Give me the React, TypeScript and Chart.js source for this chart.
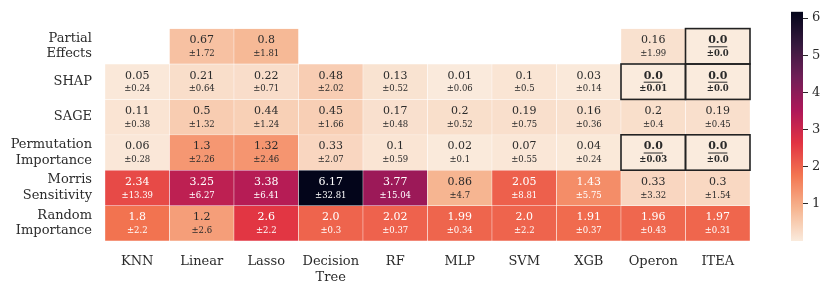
import React, { useEffect, useRef } from 'react';
import { Chart, registerables } from 'chart.js';

Chart.register(...registerables);

// ---------- data ----------
const models = ['KNN', 'Linear', 'Lasso', 'Decision Tree', 'RF', 'MLP', 'SVM', 'XGB', 'Operon', 'ITEA'];
const methods = ['Partial Effects', 'SHAP', 'SAGE', 'Permutation Importance', 'Morris Sensitivity', 'Random Importance'];

const partialEffects = [null, 0.67, 0.8, null, null, null, null, null, 0.16, 0.0];
const partialEffectsStd = [null, 1.72, 1.81, null, null, null, null, null, 1.99, 0.0];
const shap = [0.05, 0.21, 0.22, 0.48, 0.13, 0.01, 0.1, 0.03, 0.0, 0.0];
const shapStd = [0.24, 0.64, 0.71, 2.02, 0.52, 0.06, 0.5, 0.14, 0.01, 0.0];
const sage = [0.11, 0.5, 0.44, 0.45, 0.17, 0.2, 0.19, 0.16, 0.2, 0.19];
const sageStd = [0.38, 1.32, 1.24, 1.66, 0.48, 0.52, 0.75, 0.36, 0.4, 0.45];
const permutation = [0.06, 1.3, 1.32, 0.33, 0.1, 0.02, 0.07, 0.04, 0.0, 0.0];
const permutationStd = [0.28, 2.26, 2.46, 2.07, 0.59, 0.1, 0.55, 0.24, 0.03, 0.0];
const morris = [2.34, 3.25, 3.38, 6.17, 3.77, 0.86, 2.05, 1.43, 0.33, 0.3];
const morrisStd = [13.39, 6.27, 6.41, 32.81, 15.04, 4.7, 8.81, 5.75, 3.32, 1.54];
const randomImp = [1.8, 1.2, 2.6, 2.0, 2.02, 1.99, 2.0, 1.91, 1.96, 1.97];
const randomImpStd = [2.2, 2.6, 2.2, 0.3, 0.37, 0.34, 2.2, 0.37, 0.43, 0.31];

const rowValues = [partialEffects, shap, sage, permutation, morris, randomImp];
const rowStds = [partialEffectsStd, shapStd, sageStd, permutationStd, morrisStd, randomImpStd];

const colorbarTicks = [1, 2, 3, 4, 5, 6];
const colorMin = 0;
const colorMax = 6.17;

// ---------- styling helpers ----------
const FONT = '"DejaVu Serif", serif';
const TEXT_DARK = '#2b2b2b';
// rocket_r colormap anchors
const cmapStops = ['#faebdd', '#f6b48f', '#f37651', '#e13342', '#ad1759', '#701f57', '#35193e', '#03051a'];

function hexToRgb(h: string) {
  const n = parseInt(h.slice(1), 16);
  return [(n >> 16) & 255, (n >> 8) & 255, n & 255];
}
const cmapRgb = cmapStops.map(hexToRgb);

function cmap(t: number): number[] {
  const tt = Math.max(0, Math.min(1, t)) * (cmapRgb.length - 1);
  const i = Math.min(cmapRgb.length - 2, Math.floor(tt));
  const f = tt - i;
  const a = cmapRgb[i], b = cmapRgb[i + 1];
  return [0, 1, 2].map((k) => a[k] + (b[k] - a[k]) * f);
}
function rgbStr(c: number[]) {
  return `rgb(${Math.round(c[0])},${Math.round(c[1])},${Math.round(c[2])})`;
}
function colorFor(v: number | null) {
  if (v == null) return 'rgba(0,0,0,0)';
  return rgbStr(cmap((v - colorMin) / (colorMax - colorMin)));
}
function textColorFor(v: number) {
  const c = cmap((v - colorMin) / (colorMax - colorMin)).map((x) => {
    const s = x / 255;
    return s <= 0.03928 ? s / 12.92 : Math.pow((s + 0.055) / 1.055, 2.4);
  });
  const lum = 0.2126 * c[0] + 0.7152 * c[1] + 0.0722 * c[2];
  return lum > 0.408 ? TEXT_DARK : '#ffffff';
}
function fmt(v: number) {
  return Number.isInteger(v) ? v.toFixed(1) : String(v);
}

const annotatePlugin = {
  id: 'annotate',
  afterDatasetsDraw(chart: any) {
    const ctx = chart.ctx;
    const boxes: any[] = [];
    ctx.save();
    ctx.textAlign = 'center';
    ctx.textBaseline = 'middle';
    rowValues.forEach((row, i) => {
      const meta = chart.getDatasetMeta(i);
      meta.data.forEach((bar: any, j: number) => {
        const v = row[j];
        if (v == null) return;
        const sd = rowStds[i][j] as number;
        const p = bar.getProps(['x', 'y', 'base', 'width'], true);
        const cy = (p.y + p.base) / 2;
        const hi = v === 0;
        const col = textColorFor(v);
        ctx.fillStyle = col;
        ctx.font = `${hi ? 'bold ' : ''}11px ${FONT}`;
        const s = fmt(v);
        ctx.fillText(s, p.x, cy - 6);
        if (hi) {
          const w = ctx.measureText(s).width;
          ctx.strokeStyle = col;
          ctx.lineWidth = 1;
          ctx.beginPath();
          ctx.moveTo(p.x - w / 2, cy + 0.5);
          ctx.lineTo(p.x + w / 2, cy + 0.5);
          ctx.stroke();
        }
        ctx.font = `${hi ? 'bold ' : ''}8.5px ${FONT}`;
        ctx.fillText('\u00b1' + fmt(sd), p.x, cy + 7.5);
        if (hi) boxes.push({ x: p.x - p.width / 2, y: Math.min(p.y, p.base), w: p.width, h: Math.abs(p.base - p.y) });
      });
    });
    ctx.strokeStyle = '#222222';
    ctx.lineWidth = 1.6;
    boxes.forEach((b) => ctx.strokeRect(b.x, b.y, b.w, b.h));
    ctx.restore();
  },
};

const gradientPlugin = {
  id: 'cbarGradient',
  beforeDatasetsDraw(chart: any) {
    const { ctx, chartArea } = chart;
    const y = chart.scales.y;
    const y0 = y.getPixelForValue(colorMin);
    const y1 = y.getPixelForValue(colorMax);
    const g = ctx.createLinearGradient(0, y0, 0, y1);
    for (let k = 0; k <= 28; k++) g.addColorStop(k / 28, rgbStr(cmap(k / 28)));
    ctx.save();
    ctx.fillStyle = g;
    ctx.fillRect(chartArea.left, y1, chartArea.right - chartArea.left, y0 - y1);
    ctx.restore();
  },
};

export default function App() {
  const mainRef = useRef<HTMLCanvasElement>(null);
  const cbarRef = useRef<HTMLCanvasElement>(null);

  useEffect(() => {
    const datasets = rowValues.map((row, i) => ({
      label: methods[i],
      data: row.map((v) => (v == null ? null : [i, i + 1])),
      backgroundColor: row.map(colorFor),
      borderColor: '#ffffff',
      borderWidth: 0.5,
      borderSkipped: false,
    }));
    const main = new Chart(mainRef.current as HTMLCanvasElement, {
      type: 'bar',
      data: { labels: models.map((m) => m.split(' ')), datasets: datasets as any },
      options: {
        responsive: false,
        animation: false,
        layout: { padding: { top: 10, right: 81, left: 0, bottom: 0 } },
        plugins: { legend: { display: false }, tooltip: { enabled: false } },
        datasets: { bar: { grouped: false, categoryPercentage: 1, barPercentage: 1 } } as any,
        scales: {
          x: {
            type: 'category',
            grid: { display: false, drawTicks: false },
            border: { display: false },
            ticks: { font: { family: FONT, size: 13 }, color: TEXT_DARK, padding: 13, maxRotation: 0, autoSkip: false },
            afterFit: (s: any) => { s.height = 52; },
          },
          y: {
            type: 'linear',
            min: 0,
            max: 6,
            reverse: true,
            grid: { display: false, drawTicks: false },
            border: { display: false },
            afterBuildTicks: (s: any) => { s.ticks = methods.map((_, i) => ({ value: i + 0.5 })); },
            ticks: {
              callback: (_v: any, i: number) => methods[i].split(' '),
              font: { family: FONT, size: 13 },
              color: TEXT_DARK,
              padding: 13,
            },
            afterFit: (s: any) => { s.width = 105; },
          },
        } as any,
      },
      plugins: [annotatePlugin],
    });

    const cbar = new Chart(cbarRef.current as HTMLCanvasElement, {
      type: 'scatter',
      data: { datasets: [] },
      options: {
        responsive: false,
        animation: false,
        layout: { padding: { top: 9, bottom: 52, left: 0, right: 0 } },
        plugins: { legend: { display: false }, tooltip: { enabled: false } },
        scales: {
          x: { display: false },
          y: {
            type: 'linear',
            position: 'right',
            min: colorMin,
            max: colorMax,
            grid: { display: true, drawOnChartArea: false, drawTicks: true, tickLength: 5, color: TEXT_DARK, lineWidth: 1 },
            border: { display: false },
            afterBuildTicks: (s: any) => { s.ticks = colorbarTicks.map((v) => ({ value: v })); },
            ticks: { font: { family: FONT, size: 13 }, color: TEXT_DARK, padding: 4 },
            afterFit: (s: any) => { s.width = 28; },
          },
        } as any,
      },
      plugins: [gradientPlugin],
    });

    return () => {
      main.destroy();
      cbar.destroy();
    };
  }, []);

  return (
    <div style={{ position: 'absolute', left: 0, top: 0, width: 831, height: 293, background: '#fff' }}>
      <canvas ref={mainRef} width={831} height={293} style={{ position: 'absolute', left: 0, top: 0, display: 'block' }} />
      <canvas ref={cbarRef} width={40} height={293} style={{ position: 'absolute', left: 791, top: 0, display: 'block' }} />
    </div>
  );
}
